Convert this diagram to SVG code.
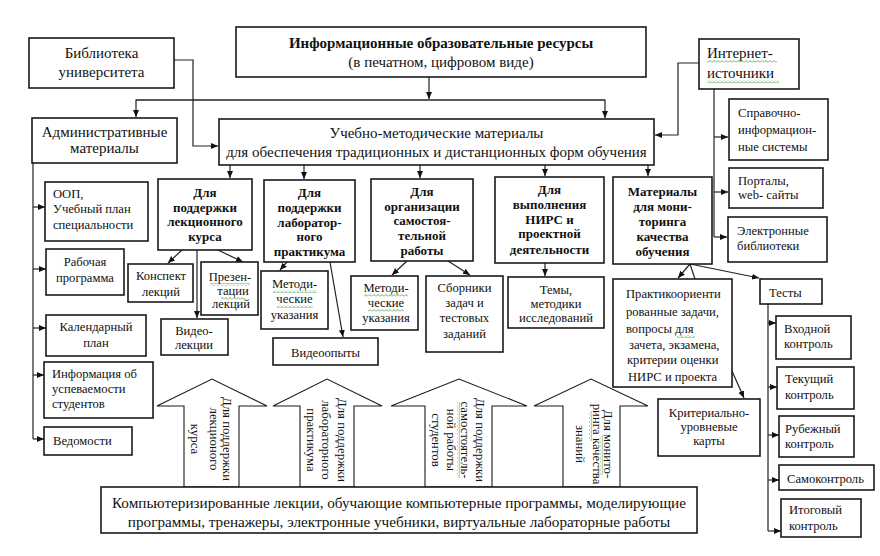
<svg xmlns="http://www.w3.org/2000/svg" width="880" height="556" viewBox="0 0 880 556">
<defs>
<style>
.b{fill:#fff;stroke:#1a1a1a;stroke-width:1.6}
.ba{fill:#fff;stroke:#1a1a1a;stroke-width:1.1}
.t{font-family:"Liberation Serif","Times New Roman",serif;font-size:12.6px;fill:#111}
.L{font-size:15px}
.bd{font-weight:bold;font-size:13px}
.v{font-size:12.8px}
.c{text-anchor:middle}
.ln{fill:none;stroke:#222;stroke-width:1.2}
.ar{marker-end:url(#ah)}
.wv{fill:url(#wv)}
</style>
<marker id="ah" markerWidth="8" markerHeight="8" refX="7" refY="3.5" orient="auto" markerUnits="userSpaceOnUse"><path d="M0,0.5 L7,3.5 L0,6.5 z" fill="#111"/></marker>
<pattern id="wv" width="4" height="3" patternUnits="userSpaceOnUse"><path d="M0,2.5 L2,0.5 L4,2.5" fill="none" stroke="#3a9a3a" stroke-width="0.8"/></pattern>
</defs>
<rect width="880" height="556" fill="#fff"/>

<g id="connectors">
<path class="ln ar" d="M429,77 V99"/>
<path class="ln ar" d="M136,100 H605 V118"/>
<path class="ln ar" d="M605,100 H136 V117"/>
<path class="ln ar" d="M174,60 H193 V146 H218"/>
<path class="ln ar" d="M699,63 H678 V135 H655"/>
<path class="ln" d="M714,89 V237"/>
<path class="ln ar" d="M714,137 H728"/>
<path class="ln ar" d="M714,192 H728"/>
<path class="ln ar" d="M714,237 H727"/>
<path class="ln ar" d="M230,165 V178"/>
<path class="ln ar" d="M304,165 V179"/>
<path class="ln ar" d="M420,165 V178"/>
<path class="ln ar" d="M545,165 V176"/>
<path class="ln ar" d="M648,165 V176"/>
<path class="ln" d="M33,163 V439"/>
<path class="ln ar" d="M33,207 H45"/>
<path class="ln ar" d="M33,269 H46"/>
<path class="ln ar" d="M33,328 H46"/>
<path class="ln ar" d="M33,375 H44"/>
<path class="ln ar" d="M33,439 H44"/>
<path class="ln ar" d="M182,250 L168,263"/>
<path class="ln ar" d="M218,250 L243,262"/>
<path class="ln ar" d="M197,250 V318"/>
<path class="ln ar" d="M287,262 L280,270"/>
<path class="ln ar" d="M330,262 L343,337"/>
<path class="ln ar" d="M407,261 L392,275"/>
<path class="ln ar" d="M448,261 L470,275"/>
<path class="ln ar" d="M545,263 V276"/>
<path class="ln ar" d="M690,264 L678,278"/>
<path class="ln" d="M690,264 L695,279"/>
<path class="ln ar" d="M690,264 L759,278"/>
<path class="ln ar" d="M732,371 L744,398"/>
<path class="ln" d="M768,304 V531"/>
<path class="ln ar" d="M768,323 H776"/>
<path class="ln ar" d="M768,387 H777"/>
<path class="ln ar" d="M768,435 H779"/>
<path class="ln ar" d="M768,480 H779"/>
<path class="ln ar" d="M768,531 H781"/>
</g>

<g id="top">
<rect class="b" x="236" y="27" width="410" height="50"/>
<text class="t c bd L" x="441" y="48" style="font-size:15px">Информационные образовательные  ресурсы</text>
<text class="t c L" x="441" y="67">(в печатном, цифровом виде)</text>
</g>
<g id="library">
<rect class="b" x="29" y="38" width="145" height="50"/>
<text class="t c L" x="101.5" y="58">Библиотека</text>
<text class="t c L" x="101.5" y="77">университета</text>
</g>
<g id="admin">
<rect class="b" x="32" y="118" width="145" height="45"/>
<text class="t c L" x="104.5" y="137">Административные</text>
<text class="t c L" x="104.5" y="153">материалы</text>
</g>
<g id="um">
<rect class="b" x="219" y="119" width="435" height="46"/>
<text class="t c L" x="436.5" y="138">Учебно-методические материалы</text>
<text class="t c L" x="436.5" y="157">для обеспечения традиционных и дистанционных форм обучения</text>
</g>
<g id="internet">
<rect class="b" x="699" y="39" width="100" height="50"/>
<text class="t L" x="707" y="58">Интернет-</text>
<text class="t L" x="707" y="78">источники</text>
<rect class="wv" x="707" y="60" width="70" height="3"/>
<rect class="wv" x="707" y="80" width="72" height="3"/>
</g>
<g id="spravochno">
<rect class="b" x="729" y="99" width="99" height="61"/>
<text class="t" x="738" y="117">Справочно-</text>
<text class="t" x="738" y="134">информацион-</text>
<text class="t" x="738" y="151">ные системы</text>
</g>
<g id="portaly">
<rect class="b" x="729" y="168" width="94" height="40"/>
<text class="t" x="738" y="185">Порталы,</text>
<text class="t" x="738" y="199">web- сайты</text>
</g>
<g id="elbib">
<rect class="b" x="728" y="217" width="99" height="45"/>
<text class="t" x="737" y="235">Электронные</text>
<text class="t" x="737" y="250">библиотеки</text>
</g>

<g id="lect">
<rect class="b" x="158" y="179" width="94" height="71"/>
<text class="t c bd" x="205" y="197">Для</text>
<text class="t c bd" x="205" y="212">поддержки</text>
<text class="t c bd" x="205" y="226">лекционного</text>
<text class="t c bd" x="205" y="241">курса</text>
</g>
<g id="lab">
<rect class="b" x="264" y="180" width="91" height="82"/>
<text class="t c bd" x="309.5" y="197">Для</text>
<text class="t c bd" x="309.5" y="212">поддержки</text>
<text class="t c bd" x="309.5" y="227">лаборатор-</text>
<text class="t c bd" x="309.5" y="241">ного</text>
<text class="t c bd" x="309.5" y="256">практикума</text>
</g>
<g id="self">
<rect class="b" x="371" y="179" width="102" height="82"/>
<text class="t c bd" x="422" y="196">Для</text>
<text class="t c bd" x="422" y="211">организации</text>
<text class="t c bd" x="422" y="225">самостоя-</text>
<text class="t c bd" x="422" y="240">тельной</text>
<text class="t c bd" x="422" y="255">работы</text>
</g>
<g id="nirs">
<rect class="b" x="495" y="177" width="109" height="86"/>
<text class="t c bd" x="549.5" y="194">Для</text>
<text class="t c bd" x="549.5" y="209">выполнения</text>
<text class="t c bd" x="549.5" y="224">НИРС и</text>
<text class="t c bd" x="549.5" y="238">проектной</text>
<text class="t c bd" x="549.5" y="254">деятельности</text>
</g>
<g id="monitor">
<rect class="b" x="613" y="177" width="99" height="87"/>
<text class="t c bd" x="662.5" y="196">Материалы</text>
<text class="t c bd" x="662.5" y="211">для мони-</text>
<text class="t c bd" x="662.5" y="226">торинга</text>
<text class="t c bd" x="662.5" y="241">качества</text>
<text class="t c bd" x="662.5" y="256">обучения</text>
</g>

<g id="oop">
<rect class="b" x="45" y="182" width="103" height="59"/>
<text class="t" x="53" y="198">ООП,</text>
<text class="t" x="53" y="213">Учебный план</text>
<text class="t" x="53" y="229">специальности</text>
</g>
<g id="rabprog">
<rect class="b" x="46" y="249" width="78" height="46"/>
<text class="t c" x="85" y="266">Рабочая</text>
<text class="t c" x="85" y="282">программа</text>
</g>
<g id="kalplan">
<rect class="b" x="46" y="315" width="100" height="41"/>
<text class="t c" x="96" y="331">Календарный</text>
<text class="t c" x="96" y="347">план</text>
</g>
<g id="uspev">
<rect class="b" x="44" y="362" width="109" height="56"/>
<text class="t" x="52" y="378">Информация об</text>
<text class="t" x="52" y="393">успеваемости</text>
<text class="t" x="52" y="408">студентов</text>
</g>
<g id="vedom">
<rect class="b" x="44" y="427" width="88" height="28"/>
<text class="t" x="53" y="445">Ведомости</text>
</g>

<g id="konspekt">
<rect class="b" x="128" y="264" width="65" height="38"/>
<text class="t c" x="161" y="280">Конспект</text>
<text class="t c" x="161" y="296">лекций</text>
</g>
<g id="prezent">
<rect class="b" x="201" y="262" width="57" height="53"/>
<text class="t c" x="230" y="281">Презен-</text>
<text class="t c" x="233" y="295">тации</text>
<text class="t c" x="231" y="308">лекций</text>
<rect class="wv" x="210" y="283" width="40" height="3"/>
<rect class="wv" x="221" y="297" width="24" height="3"/>
</g>
<g id="videolek">
<rect class="b" x="161" y="319" width="67" height="36"/>
<text class="t c" x="194" y="335">Видео-</text>
<text class="t c" x="194" y="349">лекции</text>
</g>
<g id="metod1">
<rect class="b" x="261" y="271" width="67" height="58"/>
<text class="t c" x="294.5" y="288">Методи-</text>
<text class="t c" x="294.5" y="303">ческие</text>
<text class="t c" x="294.5" y="319">указания</text>
<rect class="wv" x="273" y="290" width="44" height="3"/>
<rect class="wv" x="277" y="305" width="36" height="3"/>
</g>
<g id="videoopyty">
<rect class="b" x="273" y="338" width="105" height="27"/>
<text class="t c" x="325.5" y="357">Видеоопыты</text>
</g>
<g id="metod2">
<rect class="b" x="351" y="276" width="67" height="54"/>
<text class="t c" x="386" y="292">Методи-</text>
<text class="t c" x="386" y="307">ческие</text>
<text class="t c" x="386" y="322">указания</text>
<rect class="wv" x="364" y="294" width="44" height="3"/>
<rect class="wv" x="368" y="309" width="36" height="3"/>
</g>
<g id="sborniki">
<rect class="b" x="426" y="276" width="77" height="76"/>
<text class="t c" x="464.5" y="292">Сборники</text>
<text class="t c" x="464.5" y="307">задач и</text>
<text class="t c" x="464.5" y="322">тестовых</text>
<text class="t c" x="464.5" y="338">заданий</text>
</g>
<g id="temy">
<rect class="b" x="508" y="277" width="96" height="51"/>
<text class="t c" x="556" y="294">Темы,</text>
<text class="t c" x="556" y="308">методики</text>
<text class="t c" x="556" y="322">исследований</text>
</g>
<g id="praktiko">
<rect class="b" x="613" y="279" width="119" height="108"/>
<text class="t" x="626" y="298">Практикоориенти</text>
<text class="t" x="626" y="316">рованные задачи,</text>
<text class="t" x="626" y="333">вопросы для</text>
<text class="t" x="629" y="349">зачета, экзамена,</text>
<text class="t" x="627" y="364">критерии оценки</text>
<text class="t" x="628" y="381">НИРС и проекта</text>
<rect class="wv" x="677" y="335" width="18" height="3"/>
</g>
<g id="karty">
<rect class="b" x="658" y="399" width="102" height="57"/>
<text class="t c" x="709" y="417">Критериально-</text>
<text class="t c" x="709" y="431">уровневые</text>
<text class="t c" x="709" y="445">карты</text>
</g>
<g id="testy">
<rect class="b" x="760" y="279" width="62" height="25"/>
<text class="t" x="769" y="297">Тесты</text>
</g>
<g id="vhod">
<rect class="b" x="776" y="316" width="75" height="43"/>
<text class="t" x="784" y="333">Входной</text>
<text class="t" x="784" y="348">контроль</text>
</g>
<g id="tekush">
<rect class="b" x="777" y="367" width="77" height="42"/>
<text class="t" x="785" y="383">Текущий</text>
<text class="t" x="785" y="399">контроль</text>
</g>
<g id="rubezh">
<rect class="b" x="779" y="416" width="75" height="41"/>
<text class="t" x="785" y="433">Рубежный</text>
<text class="t" x="785" y="448">контроль</text>
</g>
<g id="samokontrol">
<rect class="b" x="779" y="465" width="95" height="25"/>
<text class="t" x="787" y="483">Самоконтроль</text>
</g>
<g id="itog">
<rect class="b" x="781" y="499" width="80" height="38"/>
<text class="t" x="789" y="514">Итоговый</text>
<text class="t" x="789" y="530">контроль</text>
</g>

<g id="arrow1">
<polygon class="ba" points="184,487 184,406 157,406 212,379 267,406 239,406 239,487"/>
<text class="t c v" transform="translate(223,439) rotate(90)">Для поддержки</text>
<text class="t c v" transform="translate(210,439) rotate(90)">лекционого</text>
<text class="t c v" transform="translate(191,439) rotate(90)">курса</text>
</g>
<g id="arrow2">
<polygon class="ba" points="300,487 300,406 273,406 327,379 382,406 354,406 354,487"/>
<text class="t c v" transform="translate(338,440) rotate(90)">Для поддержки</text>
<text class="t c v" transform="translate(322,440) rotate(90)">лабораторного</text>
<text class="t c v" transform="translate(307,440) rotate(90)">практикума</text>
</g>
<g id="arrow3">
<polygon class="ba" points="425,487 425,406 391,406 459,379 527,406 492,406 492,487"/>
<text class="t c v" transform="translate(476,440) rotate(90)">Для поддержки</text>
<g transform="translate(461,440) rotate(90)">
<text class="t c v" x="0" y="0">самостоятель-</text>
<rect class="wv" x="-38" y="1" width="76" height="3"/>
</g>
<text class="t c v" transform="translate(447,440) rotate(90)">ной работы</text>
<text class="t c v" transform="translate(432,440) rotate(90)">студентов</text>
</g>
<g id="arrow4">
<polygon class="ba" points="563,487 563,406 534,406 591,379 648,406 620,406 620,487"/>
<g transform="translate(604,444) rotate(90)">
<text class="t c v" x="0" y="0">Для монито-</text>
<rect class="wv" x="-9" y="1" width="40" height="3"/>
</g>
<g transform="translate(593,444) rotate(90)">
<text class="t c v" x="0" y="0">ринга качества</text>
<rect class="wv" x="-33" y="1" width="30" height="3"/>
</g>
<text class="t c v" transform="translate(576,444) rotate(90)">знаний</text>
</g>

<g id="computer">
<rect class="b" x="101" y="487" width="596" height="46"/>
<text class="t c" style="font-size:15.2px" x="399" y="508">Компьютеризированные лекции, обучающие компьютерные программы, моделирующие</text>
<text class="t c" style="font-size:15.2px" x="399" y="527">программы, тренажеры, электронные учебники, виртуальные лабораторные работы</text>
</g>
</svg>
